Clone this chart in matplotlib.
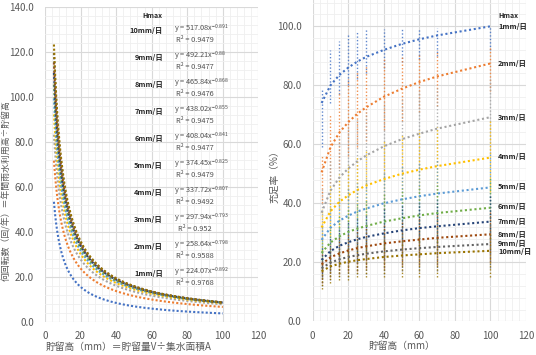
import numpy as np
import matplotlib
matplotlib.use("Agg")
import matplotlib.pyplot as plt
from matplotlib.ticker import MultipleLocator, FormatStrFormatter

plt.rcParams['font.family'] = ['Noto Sans CJK JP', 'DejaVu Sans']
plt.rcParams['mathtext.default'] = 'regular'

# ---- data ----
series = ['1mm/日', '2mm/日', '3mm/日', '4mm/日', '5mm/日',
          '6mm/日', '7mm/日', '8mm/日', '9mm/日', '10mm/日']
colors = ['#4472C4', '#ED7D31', '#A5A5A5', '#FFC000', '#5B9BD5',
          '#70AD47', '#264478', '#9E480E', '#636363', '#997300']

# left chart: power trendlines y = a * x^b (from the chart labels)
coef_a = [224.07, 258.64, 297.94, 337.72, 374.45, 408.04, 438.02, 465.84, 492.21, 517.08]
coef_b = [-0.892, -0.798, -0.793, -0.807, -0.825, -0.841, -0.855, -0.868, -0.88, -0.891]
r2 = ['0.9768', '0.9588', '0.952', '0.9492', '0.9479', '0.9477', '0.9475', '0.9476', '0.9477', '0.9479']

# right chart: storage heights and coverage rate
x_cols = [5, 10, 15, 20, 25, 30, 40, 50, 60, 70, 100]
trend = [
    [74, 80.0, 83.5, 86.0, 88.0, 89.6, 92.0, 94.0, 95.6, 96.9, 100.0],
    [50.5, 59.0, 64.0, 67.5, 70.3, 72.5, 76.1, 78.8, 81.1, 83.0, 87.4],
    [36.8, 44.3, 48.7, 51.8, 54.2, 56.2, 59.3, 61.7, 63.6, 65.3, 69.2],
    [31.8, 37.3, 40.5, 42.7, 44.5, 46.0, 48.2, 50.0, 51.4, 52.6, 55.5],
    [27.6, 31.7, 34.1, 35.8, 37.2, 38.2, 40.0, 41.3, 42.4, 43.3, 45.4],
    [23.2, 26.7, 28.8, 30.3, 31.4, 32.3, 33.8, 34.9, 35.9, 36.7, 38.5],
    [20.8, 23.8, 25.6, 26.8, 27.8, 28.6, 29.8, 30.8, 31.6, 32.2, 33.8],
    [19.3, 21.7, 23.0, 24.0, 24.8, 25.4, 26.4, 27.1, 27.7, 28.3, 29.5],
    [18.0, 19.9, 21.0, 21.8, 22.4, 22.9, 23.7, 24.3, 24.8, 25.2, 26.2],
    [17.0, 18.6, 19.5, 20.2, 20.7, 21.1, 21.8, 22.3, 22.7, 23.1, 23.9],
]
pts_hi = [
    [79, 92, 95, 97, 98, 99, 99, 99, 99.5, 99.5, 100],
    [56, 70, 78, 82, 85, 87, 89, 90, 91, 92, 93],
    [45, 55, 62, 66, 69, 71, 74, 76, 78, 79, 82],
    [38, 46, 50, 53, 56, 58, 61, 63, 65, 66, 68],
    [33, 39, 42, 45, 47, 48, 51, 53, 54, 55, 57],
    [28, 33, 36, 38, 40, 41, 43, 45, 46, 47, 49],
    [25, 29, 32, 34, 35, 36, 38, 39, 40, 41, 43],
    [23, 26, 29, 30, 31, 32, 33, 34, 35, 36, 37],
    [21, 24, 26, 27, 28, 29, 30, 31, 31, 32, 33],
    [20, 22, 24, 25, 26, 27, 28, 28, 29, 29, 30],
]
pts_lo = [
    [59, 74, 77, 80, 82, 84, 86, 88, 89, 90, 92],
    [40, 47, 52, 56, 59, 61, 65, 68, 71, 73, 78],
    [28, 34, 38, 41, 43, 45, 48, 50, 52, 54, 57],
    [24, 29, 32, 34, 35, 36, 38, 40, 41, 42, 44],
    [21, 25, 27, 28, 29, 30, 31, 32, 33, 34, 35],
    [17, 20, 22, 23, 24, 24, 25, 26, 27, 27, 28],
    [15, 17, 19, 20, 20, 21, 21, 22, 22, 23, 23],
    [13, 15, 16, 17, 17, 18, 18, 19, 19, 19, 20],
    [12, 14, 15, 15, 16, 16, 16, 17, 17, 17, 18],
    [11, 13, 14, 14, 15, 15, 15, 15, 15, 15, 15],
]

fig = plt.figure(figsize=(5.36, 3.55), dpi=100)
ax1 = fig.add_axes([0.084, 0.0938, 0.398, 0.887])
ax2 = fig.add_axes([0.5834, 0.0949, 0.398, 0.905])


def style(ax, ymax):
    ax.set_xlim(0, 120)
    ax.set_ylim(0, ymax)
    ax.xaxis.set_major_locator(MultipleLocator(20))
    ax.yaxis.set_major_locator(MultipleLocator(20))
    ax.xaxis.set_minor_locator(MultipleLocator(4))
    ax.yaxis.set_minor_locator(MultipleLocator(4))
    ax.yaxis.set_major_formatter(FormatStrFormatter('%.1f'))
    ax.grid(which='major', color='#d9d9d9', lw=0.8)
    ax.grid(which='minor', color='#efefef', lw=0.6)
    ax.set_axisbelow(True)
    for s in ax.spines.values():
        s.set_visible(False)
    ax.tick_params(which='both', length=0, labelsize=7, labelcolor='#595959')
    ax.tick_params(axis='x', pad=7)
    ax.tick_params(axis='y', pad=8)


style(ax1, 140)
style(ax2, 108.9)

# ---- left chart ----
xs = np.linspace(5, 100, 300)
for a, b, c in zip(coef_a, coef_b, colors):
    ax1.plot(xs, a * xs ** b, color=c, lw=1.5, ls=(0, (1, 1)))

ax1.text(54.6, 136.3, 'Hmax', fontsize=5, fontweight='bold', color='#262626', va='center')
for i in range(len(series)):
    yy = 21.5 + 12.01 * i
    ax1.text(66.4, yy, series[i], fontsize=5.3, fontweight='bold', color='#262626',
             ha='right', va='center')
    ax1.text(72.6, yy + 0.6, 'y = %.2fx$^{%s}$' % (coef_a[i], ('%g' % coef_b[i])),
             fontsize=5.3, color='#505050', ha='left', va='center')
    ax1.text(84.4, yy - 4.4, 'R² = ' + r2[i], fontsize=5.3, color='#505050',
             ha='center', va='center')

# ---- right chart ----
for i, c in enumerate(colors):
    ax2.vlines(x_cols, pts_lo[i], pts_hi[i], color=c, lw=1.0, alpha=0.85,
               linestyles=(0, (1, 1.5)))
for i, c in enumerate(colors):
    ax2.plot(x_cols, trend[i], color=c, lw=1.5, ls=(0, (1, 1.3)))

label_y = [100.0, 87.4, 69.0, 55.7, 45.8, 38.8, 33.8, 29.5, 26.5, 23.7]
ax2.text(104.2, 103.6, 'Hmax', fontsize=5, fontweight='bold', color='#262626', va='center')
for i in range(len(series)):
    ax2.text(104.2, label_y[i], series[i], fontsize=5.3, fontweight='bold',
             color='#262626', ha='left', va='center')

# axis titles
fig.text(7 / 536, 1 - 191 / 355, '何回転数（回/年）＝年間雨水利用高÷貯留高', rotation=90,
         fontsize=6.4, color='#595959', ha='center', va='center')
fig.text(129 / 536, 1 - 347 / 355, '貯留高（mm）＝貯留量V÷集水面積A',
         fontsize=7, color='#595959', ha='center', va='center')
fig.text(402 / 536, 1 - 346 / 355, '貯留高（mm）',
         fontsize=7, color='#595959', ha='center', va='center')
fig.text(274 / 536, 1 - 174 / 355, '充足率（%）', rotation=90,
         fontsize=7, color='#595959', ha='center', va='center')

fig.savefig('out.png', dpi=100)
